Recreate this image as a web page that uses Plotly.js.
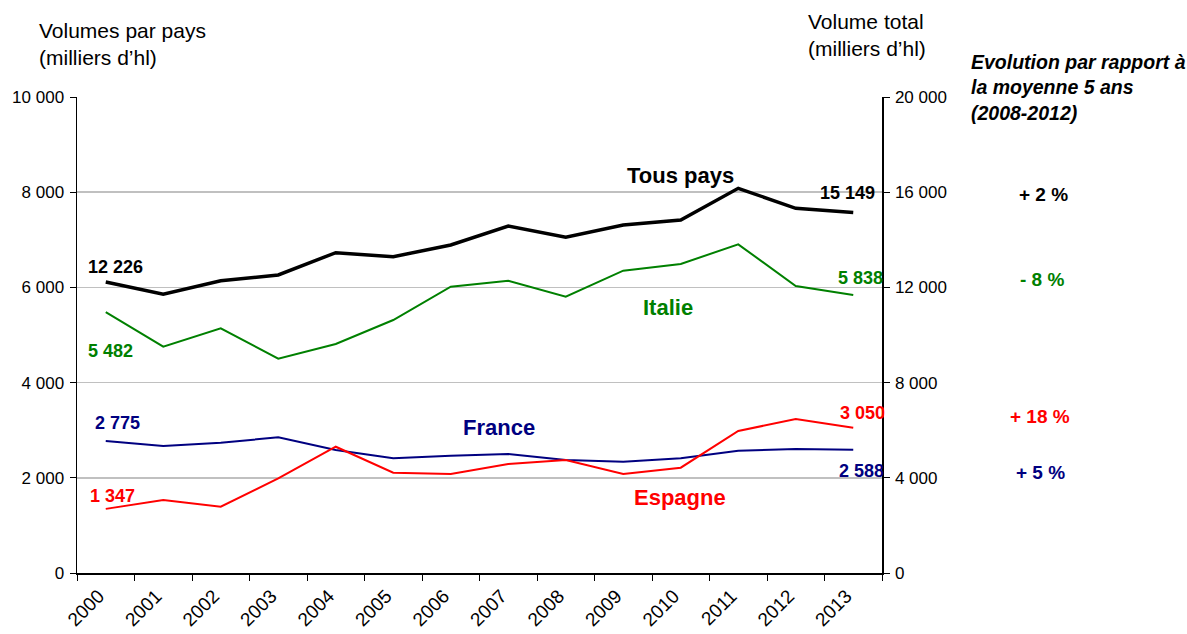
<!DOCTYPE html>
<html>
<head>
<meta charset="utf-8">
<script src="https://cdn.plot.ly/plotly-3.0.1.min.js"></script>
<style>html,body{margin:0;padding:0;background:#fff}#chart{width:1187px;height:634px}</style>
</head>
<body>
<div id="chart"></div>
<script>
// ---- Data ----
const years = ["2000","2001","2002","2003","2004","2005","2006","2007","2008","2009","2010","2011","2012","2013"];
const tousPays = [12226, 11710, 12282, 12521, 13458, 13290, 13782, 14580, 14105, 14622, 14832, 16164, 15324, 15149];
const italie   = [5482, 4754, 5141, 4502, 4811, 5315, 6015, 6141, 5805, 6351, 6492, 6905, 6029, 5838];
const france   = [2775, 2668, 2737, 2851, 2584, 2410, 2464, 2500, 2374, 2338, 2410, 2569, 2605, 2588];
const espagne  = [1347, 1534, 1393, 1989, 2653, 2107, 2080, 2290, 2374, 2080, 2212, 2983, 3235, 3050];
const seriesNames = ["Tous pays", "Italie", "France", "Espagne"];
const evolution = [2, -8, 18, 5]; // % vs moyenne 5 ans (2008-2012)
const leftTicks = [0, 2000, 4000, 6000, 8000, 10000];
const rightTicks = [0, 4000, 8000, 12000, 16000, 20000];

// ---- Styles ----
const BLACK = "#000000", GREEN = "#008000", NAVY = "#000080", RED = "#ff0000";
const FONT = "'Liberation Sans', Arial, sans-serif";
const W = 1187, H = 634, L = 77, R = 305, T = 97, B = 61;
const PW = W - L - R, PH = H - T - B;
const px = x => (x - L) / PW;
const py = y => (H - B - y) / PH;
const fmt = v => String(Math.round(v)).replace(/\B(?=(\d{3})+(?!\d))/g, " ");
const fmtPct = v => (v >= 0 ? "+ " : "- ") + Math.abs(v) + " %";

const traces = [
  {x: years, y: tousPays, yaxis: "y2", type: "scatter", mode: "lines", line: {color: BLACK, width: 3.5}, name: seriesNames[0]},
  {x: years, y: italie, type: "scatter", mode: "lines", line: {color: GREEN, width: 2}, name: seriesNames[1]},
  {x: years, y: france, type: "scatter", mode: "lines", line: {color: NAVY, width: 2}, name: seriesNames[2]},
  {x: years, y: espagne, type: "scatter", mode: "lines", line: {color: RED, width: 2}, name: seriesNames[3]}
];

function ann(text, x, y, color, size, opts) {
  return Object.assign({
    text: text, xref: "paper", yref: "paper", x: px(x), y: py(y),
    xanchor: "center", yanchor: "middle", showarrow: false,
    font: {family: FONT, size: size, color: color}
  }, opts || {});
}
const last = years.length - 1;
const annotations = [
  ann("<b>" + fmt(tousPays[0]) + "</b>", 115, 267, BLACK, 18),
  ann("<b>" + fmt(italie[0]) + "</b>", 110, 351, GREEN, 18),
  ann("<b>" + fmt(france[0]) + "</b>", 117, 423, NAVY, 18),
  ann("<b>" + fmt(espagne[0]) + "</b>", 112, 496, RED, 18),
  ann("<b>" + fmt(tousPays[last]) + "</b>", 847, 193, BLACK, 18),
  ann("<b>" + fmt(italie[last]) + "</b>", 860, 278, GREEN, 18),
  ann("<b>" + fmt(espagne[last]) + "</b>", 862, 413, RED, 18),
  ann("<b>" + fmt(france[last]) + "</b>", 861, 471, NAVY, 18),
  ann("<b>" + seriesNames[0] + "</b>", 680, 175, BLACK, 22),
  ann("<b>" + seriesNames[1] + "</b>", 668, 307, GREEN, 22),
  ann("<b>" + seriesNames[2] + "</b>", 499, 427, NAVY, 22),
  ann("<b>" + seriesNames[3] + "</b>", 680, 497, RED, 22),
  ann("<b>" + fmtPct(evolution[0]) + "</b>", 1043, 194, BLACK, 19),
  ann("<b>" + fmtPct(evolution[1]) + "</b>", 1042, 279, GREEN, 19),
  ann("<b>" + fmtPct(evolution[2]) + "</b>", 1040, 416, RED, 19),
  ann("<b>" + fmtPct(evolution[3]) + "</b>", 1040, 472, NAVY, 19),
  ann("Volumes par pays<br>(milliers d’hl)", 37, 44, BLACK, 21, {xanchor: "left", align: "left"}),
  ann("Volume total<br>(milliers d’hl)", 806, 35, BLACK, 21, {xanchor: "left", align: "left"}),
  ann("<b><i>Evolution par rapport à<br>la moyenne 5 ans<br>(2008-2012)</i></b>", 969, 87, BLACK, 19.5, {xanchor: "left", align: "left"})
];

const layout = {
  width: W, height: H,
  margin: {l: L, r: R, t: T, b: B, pad: 0},
  paper_bgcolor: "#ffffff", plot_bgcolor: "#ffffff",
  showlegend: false,
  font: {family: FONT, size: 17, color: BLACK},
  xaxis: {
    type: "category", categoryorder: "array", categoryarray: years,
    range: [-0.5, years.length - 0.5], fixedrange: true,
    showline: true, linecolor: BLACK, linewidth: 1.5,
    ticks: "outside", ticklen: 6, tickcolor: BLACK, tickwidth: 1,
    tickson: "boundaries", showgrid: false, zeroline: false,
    tickangle: -45, tickfont: {family: FONT, size: 19, color: BLACK},
    ticklabelshift: -7, ticklabelstandoff: 3
  },
  yaxis: {
    range: [0, 10000], tickvals: leftTicks, ticktext: leftTicks.map(fmt),
    showline: true, linecolor: BLACK, linewidth: 1.5,
    ticks: "outside", ticklen: 6, tickcolor: BLACK,
    showgrid: true, gridcolor: "#c0c0c0", gridwidth: 1.5, zeroline: false,
    tickfont: {family: FONT, size: 17, color: BLACK}, ticklabelstandoff: 2
  },
  yaxis2: {
    range: [0, 20000], tickvals: rightTicks, ticktext: rightTicks.map(fmt),
    overlaying: "y", side: "right", anchor: "x",
    showline: true, linecolor: BLACK, linewidth: 1.5,
    ticks: "outside", ticklen: 6, tickcolor: BLACK,
    showgrid: false, zeroline: false,
    tickfont: {family: FONT, size: 17, color: BLACK}, ticklabelstandoff: 2
  },
  annotations: annotations
};

Plotly.newPlot("chart", traces, layout, {staticPlot: true, displayModeBar: false});
</script>
</body>
</html>
